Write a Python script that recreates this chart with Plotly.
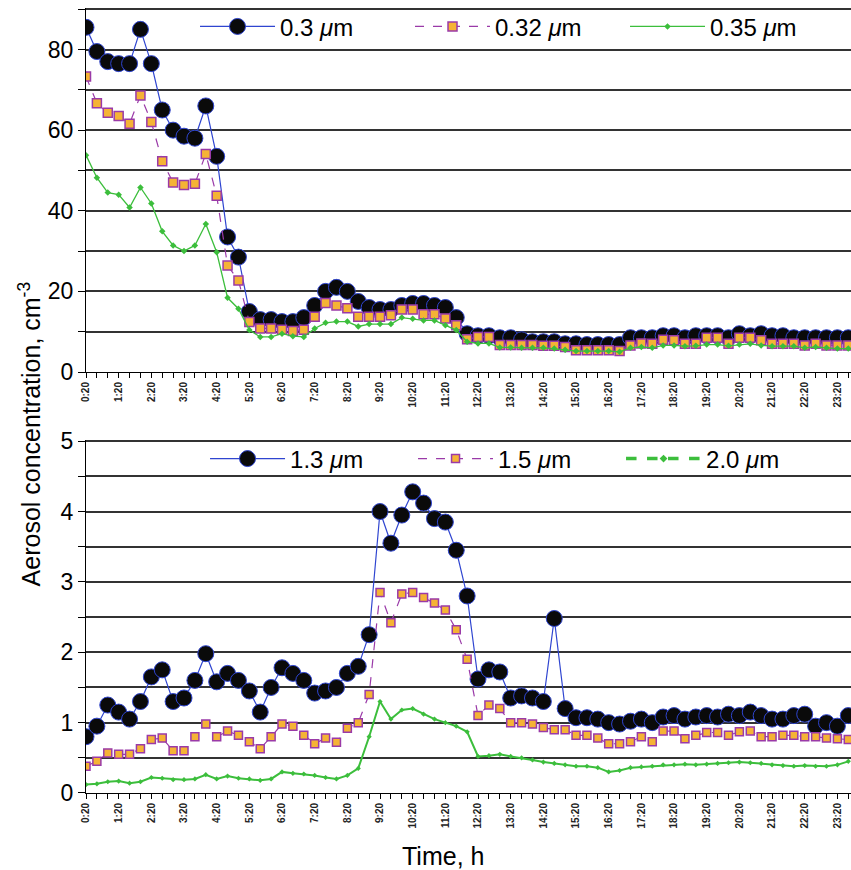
import plotly.graph_objects as go

# ---------------- data ----------------
n_points = 71  # samples every 20 min, from 0:20 to 23:40
time_minutes = [20 + 20 * k for k in range(n_points)]
time_labels = [f"{m // 60}:{m % 60:02d}" for m in time_minutes]
time_hours = [m / 60 for m in time_minutes]

tick_hours = [h + 1 / 3 for h in range(24)]
tick_labels = [f"{h}:20" for h in range(24)]

s030 = [85.5, 79.5, 77, 76.5, 76.5, 85, 76.5, 65, 60, 58.5,
        58, 66, 53.5, 33.5, 28.5, 15, 13, 13, 12.5, 12.5,
        13.5, 16.5, 20, 21, 20, 17.5, 16, 15.5, 15.5, 16.5,
        17, 17, 16.5, 16, 13.5, 9.5, 9, 9, 8.5, 8.5,
        8, 7.5, 7.5, 7.5, 7, 7, 6.8, 6.8, 6.8, 6.8,
        8.5, 8.5, 8.5, 9, 9, 8.5, 9, 9, 9, 8.5,
        9.5, 9, 9.5, 9, 9, 8.5, 8.5, 8.5, 8.5, 8.5, 8.5]

s032 = [73.3, 66.7, 64.3, 63.5, 61.6, 68.6, 62, 52.3, 47, 46.4,
        46.7, 54.1, 43.7, 26.4, 22.7, 12.4, 10.8, 10.8, 10.5, 10.2,
        10.5, 13.7, 17.1, 16.5, 15.8, 13.7, 13.7, 13.7, 14.1, 15.5,
        15.5, 14.3, 14.3, 13.3, 11.6, 8.1, 8.7, 8.7, 6.7, 6.7,
        6.7, 6.7, 6.5, 6.5, 6.2, 5.4, 5.4, 5.4, 5.4, 5.2,
        6.6, 7.1, 7, 8, 7.9, 7, 7, 8.5, 8.5, 7,
        8.5, 8.5, 7.9, 7, 7, 7, 6.6, 7, 6.6, 6.6, 6.6]

s035 = [53.8, 48.2, 44.5, 44, 40.8, 45.8, 41.8, 34.9, 31.4, 30,
        31.4, 36.7, 29.7, 18.4, 15.7, 10.4, 8.7, 8.7, 9.5, 8.9,
        8.7, 10.8, 12.2, 12.5, 12.5, 11.3, 11.9, 11.9, 11.9, 13.5,
        13.2, 12.8, 12.8, 11.6, 10.4, 7.5, 7.1, 7.1, 6.1, 6.1,
        6.0, 6.0, 6.0, 5.8, 5.5, 5.2, 5.2, 5.2, 5.2, 5.0,
        6.0, 6.2, 6.0, 6.6, 6.6, 6.4, 6.5, 6.8, 6.8, 6.5,
        6.8, 7.0, 6.6, 6.4, 6.4, 6.4, 6.0, 6.2, 6.0, 5.8, 5.8]

s13 = [0.8, 0.95, 1.25, 1.15, 1.05, 1.3, 1.65, 1.75, 1.3, 1.35,
       1.6, 1.98, 1.58, 1.7, 1.6, 1.45, 1.15, 1.5, 1.78, 1.7,
       1.6, 1.42, 1.45, 1.5, 1.7, 1.8, 2.25, 4.0, 3.55, 3.95,
       4.28, 4.12, 3.9, 3.85, 3.45, 2.8, 1.62, 1.75, 1.72, 1.35,
       1.38, 1.35, 1.3, 2.48, 1.2, 1.07, 1.07, 1.05, 1.0, 0.98,
       1.02, 1.05, 1.0, 1.08, 1.1, 1.05, 1.08, 1.1, 1.08, 1.12,
       1.1, 1.15, 1.1, 1.05, 1.05, 1.1, 1.12, 0.95, 1.0, 0.95, 1.1]

s15 = [0.38, 0.45, 0.57, 0.55, 0.55, 0.63, 0.76, 0.78, 0.6, 0.6,
       0.8, 0.98, 0.8, 0.88, 0.82, 0.73, 0.63, 0.8, 0.98, 0.95,
       0.82, 0.7, 0.78, 0.72, 0.92, 1.0, 1.4, 2.85, 2.42, 2.83,
       2.85, 2.78, 2.7, 2.6, 2.32, 1.9, 1.1, 1.25, 1.2, 1.0,
       1.0, 0.98, 0.93, 0.9, 0.9, 0.82, 0.82, 0.78, 0.7, 0.7,
       0.73, 0.8, 0.73, 0.88, 0.88, 0.77, 0.82, 0.86, 0.86, 0.82,
       0.87, 0.88, 0.8, 0.8, 0.82, 0.82, 0.8, 0.8, 0.78, 0.77, 0.76]

s20 = [0.12, 0.13, 0.16, 0.17, 0.14, 0.16, 0.22, 0.21, 0.19, 0.19,
       0.2, 0.26, 0.2, 0.24, 0.21, 0.2, 0.18, 0.2, 0.3, 0.28,
       0.27, 0.25, 0.22, 0.2, 0.25, 0.35, 0.8, 1.3, 1.05, 1.18,
       1.2, 1.12, 1.05, 1.0, 0.95, 0.87, 0.52, 0.53, 0.55, 0.52,
       0.5, 0.47, 0.44, 0.42, 0.4, 0.38, 0.38, 0.36, 0.3, 0.32,
       0.36, 0.37, 0.38, 0.4, 0.4, 0.41, 0.4, 0.41, 0.42, 0.43,
       0.44, 0.43, 0.42, 0.4, 0.39, 0.38, 0.39, 0.38, 0.38, 0.4, 0.45]

# ---------------- styles ----------------
FONT = "Liberation Sans, Arial, sans-serif"
BLUE = "#2f45d0"
PURPLE = "#9a3aa8"
ORANGE = "#f5b335"
GREEN = "#3cbe3c"
GRID = "#333333"

fig = go.Figure()

def black_trace(y, name, xa, ya, leg):
    return go.Scatter(x=time_hours, y=y, name=name, mode="lines+markers",
                      xaxis=xa, yaxis=ya, legend=leg,
                      line=dict(color=BLUE, width=1.2),
                      marker=dict(symbol="circle", size=16, color="#0a0a0a",
                                  line=dict(color=BLUE, width=1)))

def orange_trace(y, name, xa, ya, leg, size):
    return go.Scatter(x=time_hours, y=y, name=name, mode="lines+markers",
                      xaxis=xa, yaxis=ya, legend=leg,
                      line=dict(color=PURPLE, width=1.2, dash="dash"),
                      marker=dict(symbol="square", size=size, color=ORANGE,
                                  line=dict(color=PURPLE, width=1.5)))

fig.add_trace(black_trace(s030, "0.3 <i>μ</i>m", "x", "y", "legend"))
fig.add_trace(orange_trace(s032, "0.32 <i>μ</i>m", "x", "y", "legend", 9))
fig.add_trace(go.Scatter(x=time_hours, y=s035, name="0.35 <i>μ</i>m", mode="lines+markers",
                         xaxis="x", yaxis="y", legend="legend",
                         line=dict(color=GREEN, width=1.3),
                         marker=dict(symbol="diamond", size=5, color=GREEN)))

fig.add_trace(black_trace(s13, "1.3 <i>μ</i>m", "x2", "y2", "legend2"))
fig.add_trace(orange_trace(s15, "1.5 <i>μ</i>m", "x2", "y2", "legend2", 8))
fig.add_trace(go.Scatter(x=time_hours, y=s20, name="2.0 <i>μ</i>m", mode="lines+markers",
                         xaxis="x2", yaxis="y2", legend="legend2", showlegend=False,
                         line=dict(color=GREEN, width=2),
                         marker=dict(symbol="diamond", size=4, color=GREEN)))
# legend entry for the 2.0 µm series (drawn as a thick dashed line in the key)
fig.add_trace(go.Scatter(x=[None], y=[None], name="2.0 <i>μ</i>m", mode="lines+markers",
                         xaxis="x2", yaxis="y2", legend="legend2",
                         line=dict(color=GREEN, width=3.5, dash="dash"),
                         marker=dict(symbol="diamond", size=6, color=GREEN)))

xaxis_common = dict(
    range=[1 / 3, 23.75], tickmode="array", tickvals=tick_hours, ticktext=tick_labels,
    tickangle=-90, tickfont=dict(family=FONT, size=10, color="#222", weight="bold"),
    showline=True, linecolor="black", linewidth=1, showgrid=False, zeroline=False,
    ticks="outside", ticklen=5, tickcolor="black", automargin=False,
    minor=dict(tickmode="linear", tick0=1 / 3, dtick=1 / 3, ticks="outside",
               ticklen=5, tickcolor="black", showgrid=False),
)

def yaxis_def(domain, rng, major, minor_step):
    return dict(
        domain=domain, range=rng, tickmode="linear", tick0=0, dtick=major,
        showgrid=True, gridcolor=GRID, gridwidth=2, zeroline=False,
        showline=True, linecolor="black", linewidth=1, automargin=False,
        ticks="outside", ticklen=7, tickcolor="black",
        tickfont=dict(family=FONT, size=23, color="black"),
        minor=dict(tickmode="linear", tick0=0, dtick=minor_step, showgrid=True,
                   gridcolor=GRID, gridwidth=2, ticks="outside", ticklen=7,
                   tickcolor="black"),
    )

fig.update_layout(
    width=851, height=870,
    margin=dict(l=86, r=0, t=8, b=77, autoexpand=False),
    paper_bgcolor="white", plot_bgcolor="white",
    font=dict(family=FONT, color="black"),
    xaxis=dict(domain=[0, 1], anchor="y", **xaxis_common),
    yaxis=dict(anchor="x", **yaxis_def([0.5363, 1], [0, 90.3], 20, 10)),
    xaxis2=dict(domain=[0, 1], anchor="y2", **xaxis_common),
    yaxis2=dict(anchor="x2", **yaxis_def([0, 0.4497], [0, 5.017], 1, 0.5)),
    legend=dict(orientation="h", x=0.1425, xanchor="left", y=0.976, yanchor="middle",
                bgcolor="rgba(0,0,0,0)", font=dict(family=FONT, size=24),
                itemwidth=75, entrywidth=125, entrywidthmode="pixels"),
    legend2=dict(orientation="h", x=0.1556, xanchor="left", y=0.4255, yanchor="middle",
                 bgcolor="rgba(0,0,0,0)", font=dict(family=FONT, size=24),
                 itemwidth=75, entrywidth=118, entrywidthmode="pixels"),
    showlegend=True,
    annotations=[
        dict(text="Aerosol concentration, cm<sup>-3</sup>", xref="paper", yref="paper",
             x=-0.073, y=0.457, xanchor="center", yanchor="middle", textangle=-90,
             showarrow=False, font=dict(family=FONT, size=25, color="black")),
        dict(text="Time, h", xref="paper", yref="paper", x=0.467, y=-0.08,
             xanchor="center", yanchor="middle", showarrow=False,
             font=dict(family=FONT, size=25, color="black")),
    ],
)

fig.write_html("out.html")
